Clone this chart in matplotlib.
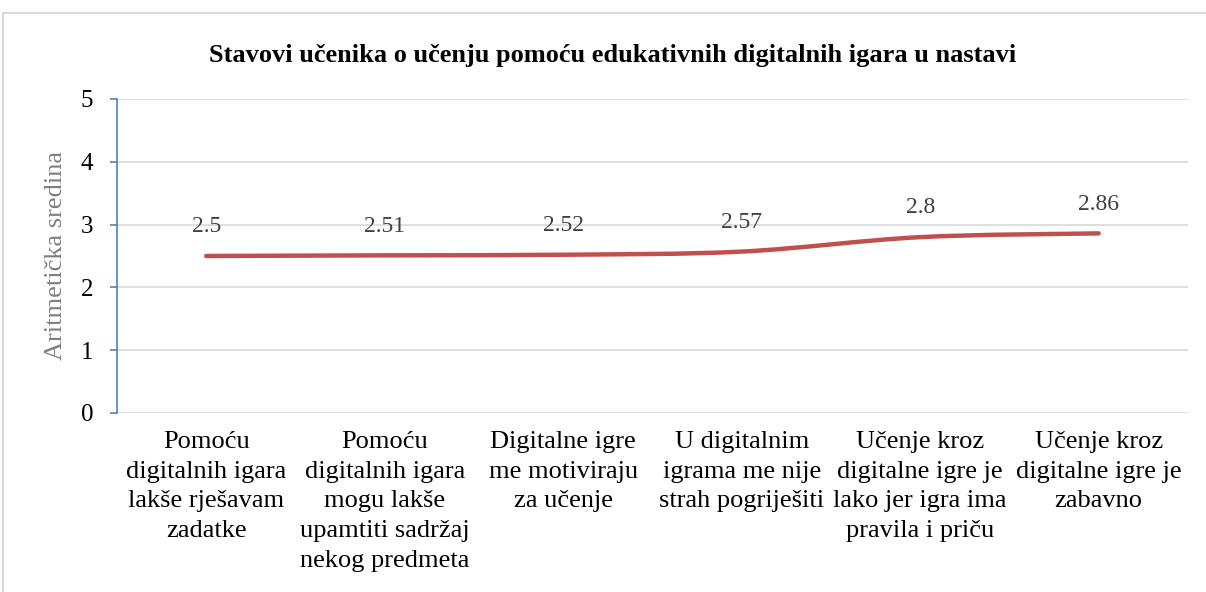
import numpy as np
import matplotlib.pyplot as plt
from matplotlib.path import Path
from matplotlib.patches import PathPatch, Rectangle

plt.rcParams['font.family'] = ['Liberation Serif', 'DejaVu Serif']

# podaci
kategorije = [
    'Pomoću\ndigitalnih igara\nlakše rješavam\nzadatke',
    'Pomoću\ndigitalnih igara\nmogu lakše\nupamtiti sadržaj\nnekog predmeta',
    'Digitalne igre\nme motiviraju\nza učenje',
    'U digitalnim\nigrama me nije\nstrah pogriješiti',
    'Učenje kroz\ndigitalne igre je\nlako jer igra ima\npravila i priču',
    'Učenje kroz\ndigitalne igre je\nzabavno',
]
vrijednosti = [2.5, 2.51, 2.52, 2.57, 2.8, 2.86]
oznake = ['2.5', '2.51', '2.52', '2.57', '2.8', '2.86']
y_ticks = [0, 1, 2, 3, 4, 5]

fig = plt.figure(figsize=(12.06, 5.92), dpi=100)
ax = fig.add_axes([0.097, 0.3024, 0.888, 0.5304])

# okvir grafikona
fig.patches.append(Rectangle((3 / 1206, -0.05), 1.1, 1 - 13 / 592 + 0.05,
                             transform=fig.transFigure, fill=False,
                             edgecolor='#D9D9D9', linewidth=1.5))

x = np.arange(len(vrijednosti))
y = np.array(vrijednosti)

# zaglađena linija (Bezier kao u Excelu)
verts = [(x[0], y[0])]
codes = [Path.MOVETO]
n = len(x)
for i in range(n - 1):
    p0 = np.array([x[max(i - 1, 0)], y[max(i - 1, 0)]])
    p1 = np.array([x[i], y[i]])
    p2 = np.array([x[i + 1], y[i + 1]])
    p3 = np.array([x[min(i + 2, n - 1)], y[min(i + 2, n - 1)]])
    c1 = p1 + (p2 - p0) / 6
    c2 = p2 - (p3 - p1) / 6
    verts += [tuple(c1), tuple(c2), tuple(p2)]
    codes += [Path.CURVE4] * 3
ax.add_patch(PathPatch(Path(verts, codes), facecolor='none', edgecolor='#C0504D',
                       linewidth=3.2, capstyle='round', joinstyle='round', zorder=3))

for xi, yi, t in zip(x, y, oznake):
    ax.annotate(t, (xi, yi), xytext=(0, 21), textcoords='offset points',
                ha='center', va='center', fontsize=17, color='#404040')

ax.set_xlim(-0.5, 5.5)
ax.set_ylim(0, 5)
ax.set_yticks(y_ticks)
ax.set_xticks(x)
ax.set_xticklabels(kategorije, fontsize=19, linespacing=1.45)
ax.tick_params(axis='x', length=0, pad=13)
ax.tick_params(axis='y', labelsize=18, direction='out', length=5, width=1.2,
               color='#4F81BD', pad=12)
ax.grid(axis='y', color='#D9D9D9', linewidth=1.2)
ax.set_axisbelow(True)
for s in ['top', 'right', 'bottom']:
    ax.spines[s].set_visible(False)
ax.spines['left'].set_color('#4F81BD')
ax.spines['left'].set_linewidth(1.2)
ax.set_ylabel('Aritmetička sredina', fontsize=19, color='#7F7F7F', labelpad=10)

fig.text(0.508, 0.907, 'Stavovi učenika o učenju pomoću edukativnih digitalnih igara u nastavi',
         ha='center', va='center', fontsize=19, fontweight='bold')

fig.savefig('out.png', dpi=100)
